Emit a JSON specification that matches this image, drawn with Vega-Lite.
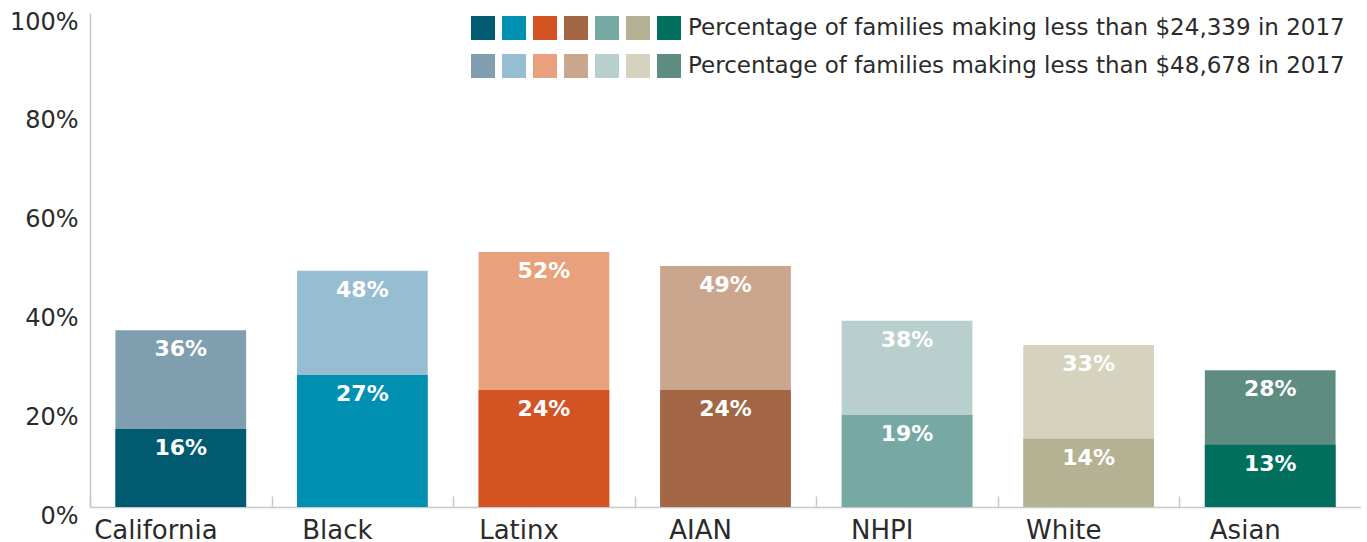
{
  "$schema": "https://vega.github.io/schema/vega-lite/v6.json",
  "width": 1271,
  "height": 494,
  "padding": {"left": 0, "top": 10, "right": 0, "bottom": 0},
  "autosize": {"type": "pad"},
  "background": "white",
  "config": {"view": {"stroke": null}, "font": "DejaVu Sans"},
  "data": {
    "values": [
      {"group": "California", "level": "high", "key": "California-high", "value": 0.358},
      {"group": "Black", "level": "high", "key": "Black-high", "value": 0.478},
      {"group": "Latinx", "level": "high", "key": "Latinx-high", "value": 0.516},
      {"group": "AIAN", "level": "high", "key": "AIAN-high", "value": 0.488},
      {"group": "NHPI", "level": "high", "key": "NHPI-high", "value": 0.377},
      {"group": "White", "level": "high", "key": "White-high", "value": 0.328},
      {"group": "Asian", "level": "high", "key": "Asian-high", "value": 0.277},
      {"group": "California", "level": "low", "key": "California-low", "value": 0.158},
      {"group": "Black", "level": "low", "key": "Black-low", "value": 0.267},
      {"group": "Latinx", "level": "low", "key": "Latinx-low", "value": 0.237},
      {"group": "AIAN", "level": "low", "key": "AIAN-low", "value": 0.237},
      {"group": "NHPI", "level": "low", "key": "NHPI-low", "value": 0.186},
      {"group": "White", "level": "low", "key": "White-low", "value": 0.138},
      {"group": "Asian", "level": "low", "key": "Asian-low", "value": 0.126}
    ]
  },
  "encoding": {
    "x": {
      "field": "group",
      "type": "nominal",
      "sort": ["California", "Black", "Latinx", "AIAN", "NHPI", "White", "Asian"],
      "scale": {"paddingInner": 0.28, "paddingOuter": 0.14},
      "axis": {
        "title": null,
        "labelAngle": 0,
        "labelFontSize": 26,
        "labelColor": "#2b2b2b",
        "domainColor": "#c8c8c8",
        "domainWidth": 1.5,
        "tickColor": "#c8c8c8",
        "tickWidth": 1.5,
        "tickSize": -11,
        "bandPosition": 0,
        "tickOffset": -25.4,
        "labelPadding": 21
      }
    },
    "y": {
      "field": "value",
      "type": "quantitative",
      "stack": null,
      "scale": {"domain": [0, 1]},
      "axis": {
        "title": null,
        "values": [0, 0.2, 0.4, 0.6, 0.8, 1],
        "format": ".0%",
        "grid": false,
        "ticks": false,
        "domainColor": "#c8c8c8",
        "domainWidth": 1.5,
        "labelFontSize": 24,
        "labelColor": "#2b2b2b",
        "labelPadding": 12,
        "labelOffset": 9,
        "labelBaseline": "middle",
        "labelFlush": false,
        "minExtent": 90,
        "maxExtent": 90
      }
    }
  },
  "layer": [
    {
      "mark": {"type": "bar"},
      "encoding": {
        "color": {
          "field": "key",
          "type": "nominal",
          "scale": {
            "domain": ["California-low", "California-high", "Black-low", "Black-high", "Latinx-low", "Latinx-high",
                       "AIAN-low", "AIAN-high", "NHPI-low", "NHPI-high", "White-low", "White-high", "Asian-low", "Asian-high"],
            "range": ["#005b70", "#7f9fb0", "#0091b2", "#97bdd2", "#d35322", "#e9a07c",
                      "#a36644", "#cba68e", "#77a9a4", "#b9cfcd", "#b4b293", "#d5d3bd", "#006f5e", "#5e8c80"]
          },
          "legend": {
            "title": null,
            "orient": "none",
            "legendX": 381,
            "legendY": 3,
            "columns": 7,
            "symbolType": "square",
            "symbolSize": 576,
            "symbolStrokeWidth": 0,
            "symbolOpacity": 1,
            "labelOffset": 7,
            "columnPadding": 0,
            "rowPadding": 14,
            "labelFontSize": 23,
            "labelColor": "#2b2b2b",
            "labelLimit": 0,
            "labelExpr": "datum.value == 'Asian-low' ? 'Percentage of families making less than $24,339 in 2017' : datum.value == 'Asian-high' ? 'Percentage of families making less than $48,678 in 2017' : ''"
          }
        }
      }
    },
    {
      "mark": {"type": "text", "color": "white", "fontWeight": "bold", "fontSize": 22, "baseline": "middle", "dy": 19},
      "encoding": {
        "text": {"field": "value", "type": "quantitative", "format": ".0%"}
      }
    }
  ]
}
